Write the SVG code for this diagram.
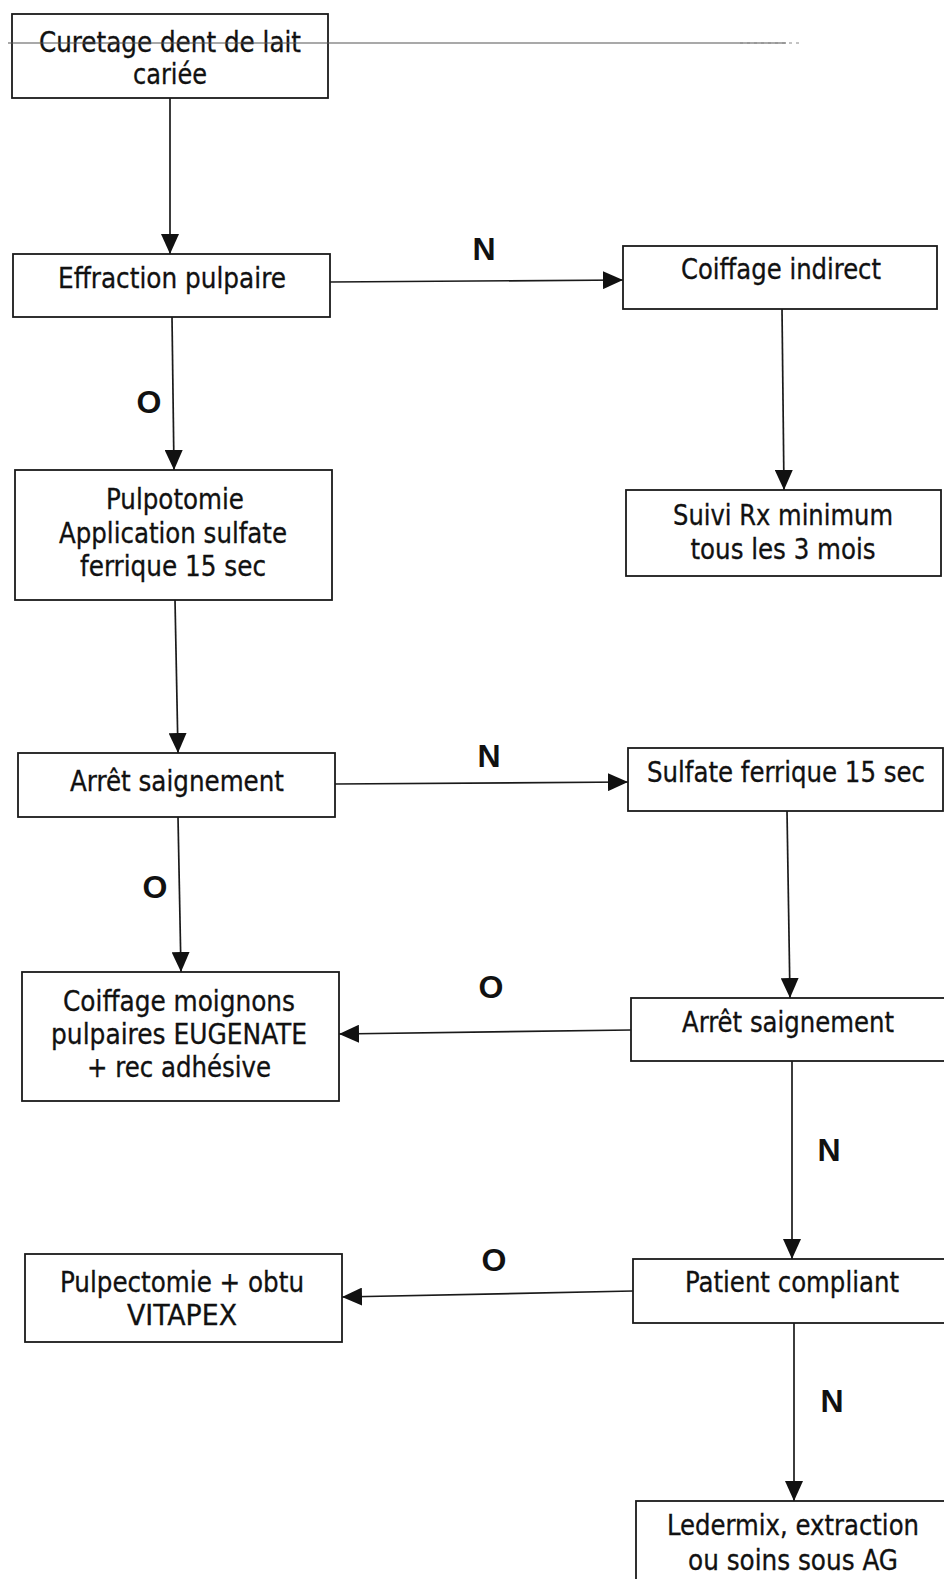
<svg xmlns="http://www.w3.org/2000/svg" width="944" height="1579" viewBox="0 0 944 1579">
<style>
.box{fill:#fff;stroke:#1a1a1a;stroke-width:1.8}
.t{font-family:'DejaVu Sans Condensed','DejaVu Sans',sans-serif;font-stretch:condensed;font-size:28px;fill:#111;stroke:#111;stroke-width:0.3;text-anchor:middle}
.lbl{font-family:'Liberation Sans',Arial,sans-serif;font-weight:bold;font-size:32px;fill:#111;text-anchor:middle}
.c{stroke:#1a1a1a;stroke-width:1.7;fill:none}
</style>
<defs>
<marker id="ah" markerUnits="userSpaceOnUse" markerWidth="22" markerHeight="18" refX="20" refY="9" orient="auto">
<path d="M0,0 L20,9 L0,18 z" fill="#111"/>
</marker>
</defs>
<rect width="944" height="1579" fill="#fff"/>
<g id="connectors">
<line class="c" x1="170" y1="98" x2="170" y2="254" marker-end="url(#ah)"/>
<line class="c" x1="330" y1="282" x2="623" y2="280" marker-end="url(#ah)"/>
<line class="c" x1="782" y1="309" x2="784" y2="490" marker-end="url(#ah)"/>
<line class="c" x1="172" y1="317" x2="174" y2="470" marker-end="url(#ah)"/>
<line class="c" x1="175" y1="600" x2="178" y2="753" marker-end="url(#ah)"/>
<line class="c" x1="335" y1="784" x2="628" y2="782" marker-end="url(#ah)"/>
<line class="c" x1="787" y1="811" x2="790" y2="998" marker-end="url(#ah)"/>
<line class="c" x1="178" y1="817" x2="181" y2="972" marker-end="url(#ah)"/>
<line class="c" x1="631" y1="1030" x2="339" y2="1034" marker-end="url(#ah)"/>
<line class="c" x1="792" y1="1061" x2="792" y2="1259" marker-end="url(#ah)"/>
<line class="c" x1="633" y1="1291" x2="342" y2="1297" marker-end="url(#ah)"/>
<line class="c" x1="794" y1="1323" x2="794" y2="1501" marker-end="url(#ah)"/>
<text class="lbl" x="484" y="260">N</text>
<text class="lbl" x="149" y="413">O</text>
<text class="lbl" x="489" y="767">N</text>
<text class="lbl" x="155" y="898">O</text>
<text class="lbl" x="491" y="998">O</text>
<text class="lbl" x="829" y="1161">N</text>
<text class="lbl" x="494" y="1271">O</text>
<text class="lbl" x="832" y="1412">N</text>
</g>
<g id="n1">
<rect class="box" x="12" y="14" width="316" height="84"/>
<text class="t" x="170" y="52" textLength="262" lengthAdjust="spacingAndGlyphs">Curetage dent de lait</text>
<text class="t" x="170" y="84" textLength="74" lengthAdjust="spacingAndGlyphs">cariée</text>
</g>
<g id="n2">
<rect class="box" x="13" y="254" width="317" height="63"/>
<text class="t" x="172" y="288" textLength="228" lengthAdjust="spacingAndGlyphs">Effraction pulpaire</text>
</g>
<g id="n3">
<rect class="box" x="623" y="246" width="314" height="63"/>
<text class="t" x="781" y="279" textLength="200" lengthAdjust="spacingAndGlyphs">Coiffage indirect</text>
</g>
<g id="n4">
<rect class="box" x="626" y="490" width="315" height="86"/>
<text class="t" x="783" y="525" textLength="220" lengthAdjust="spacingAndGlyphs">Suivi Rx minimum</text>
<text class="t" x="783" y="559" textLength="185" lengthAdjust="spacingAndGlyphs">tous les 3 mois</text>
</g>
<g id="n5">
<rect class="box" x="15" y="470" width="317" height="130"/>
<text class="t" x="175" y="509" textLength="138" lengthAdjust="spacingAndGlyphs">Pulpotomie</text>
<text class="t" x="173" y="543" textLength="228" lengthAdjust="spacingAndGlyphs">Application sulfate</text>
<text class="t" x="173" y="576" textLength="186" lengthAdjust="spacingAndGlyphs">ferrique 15 sec</text>
</g>
<g id="n6">
<rect class="box" x="18" y="753" width="317" height="64"/>
<text class="t" x="177" y="791" textLength="214" lengthAdjust="spacingAndGlyphs">Arrêt saignement</text>
</g>
<g id="n7">
<rect class="box" x="628" y="748" width="315" height="63"/>
<text class="t" x="786" y="782" textLength="278" lengthAdjust="spacingAndGlyphs">Sulfate ferrique 15 sec</text>
</g>
<g id="n8">
<rect class="box" x="22" y="972" width="317" height="129"/>
<text class="t" x="179" y="1011" textLength="232" lengthAdjust="spacingAndGlyphs">Coiffage moignons</text>
<text class="t" x="179" y="1044" textLength="256" lengthAdjust="spacingAndGlyphs">pulpaires EUGENATE</text>
<text class="t" x="179" y="1077" textLength="184" lengthAdjust="spacingAndGlyphs">+ rec adhésive</text>
</g>
<g id="n9">
<rect class="box" x="631" y="998" width="318" height="63"/>
<text class="t" x="788" y="1032" textLength="212" lengthAdjust="spacingAndGlyphs">Arrêt saignement</text>
</g>
<g id="n10">
<rect class="box" x="633" y="1259" width="316" height="64"/>
<text class="t" x="792" y="1292" textLength="214" lengthAdjust="spacingAndGlyphs">Patient compliant</text>
</g>
<g id="n11">
<rect class="box" x="25" y="1254" width="317" height="88"/>
<text class="t" x="182" y="1292" textLength="244" lengthAdjust="spacingAndGlyphs">Pulpectomie + obtu</text>
<text class="t" x="182" y="1325" textLength="110" lengthAdjust="spacingAndGlyphs">VITAPEX</text>
</g>
<g id="n12">
<rect class="box" x="636" y="1501" width="320" height="100"/>
<text class="t" x="793" y="1535" textLength="252" lengthAdjust="spacingAndGlyphs">Ledermix, extraction</text>
<text class="t" x="793" y="1570" textLength="210" lengthAdjust="spacingAndGlyphs">ou soins sous AG</text>
</g>
<g id="scanline">
<line x1="8" y1="43" x2="786" y2="43" stroke="#555" stroke-width="1.2"/>
<line x1="740" y1="43" x2="800" y2="43" stroke="#888" stroke-width="1" stroke-dasharray="3 4"/>
</g>
</svg>
